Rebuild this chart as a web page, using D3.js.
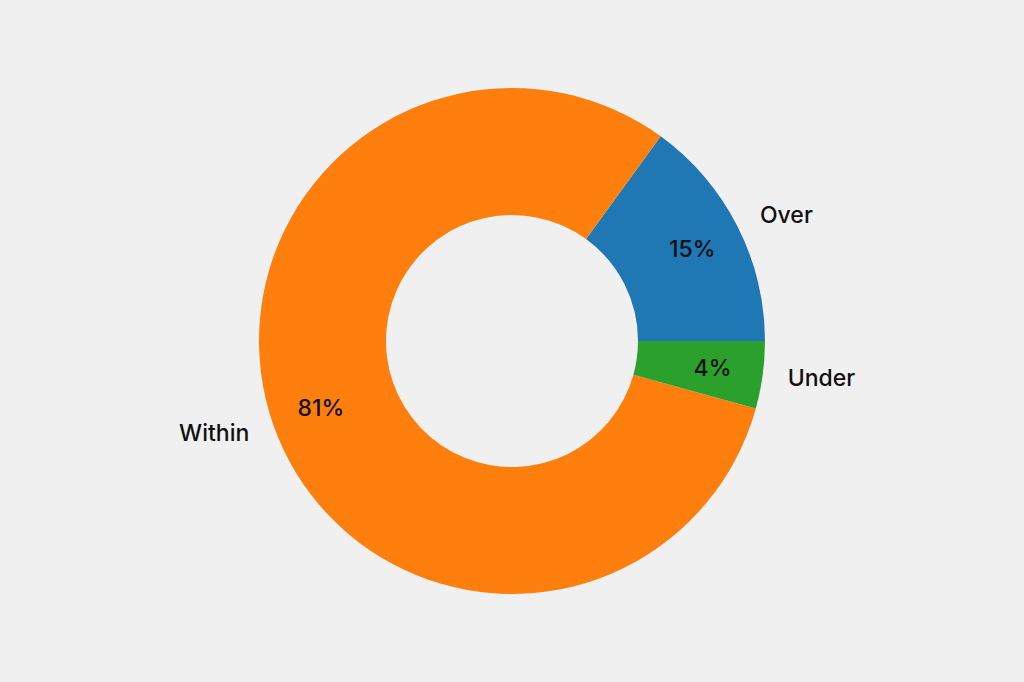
<!DOCTYPE html>
<html>
<head>
<meta charset="utf-8">
<script src="https://cdn.jsdelivr.net/npm/d3@7"></script>
<style>
  body { margin: 0; background: #f0f0f0; }
  svg { display: block; }
</style>
</head>
<body>
<div id="chart"></div>
<script>
var svgWidth = 1024;
var svgHeight = 682;

var categories = ["Over", "Within", "Under"];
var values = [15, 80.7, 4.3];
var colors = ["#1f77b4", "#ff7f0e", "#2ca02c"];

var cx = 512, cy = 341;
var outerR = 253;
var innerR = 126;
var labelDist = 1.1;
var pctDist = 0.8;

var svg = d3.select("#chart")
    .append("svg")
    .attr("width", svgWidth)
    .attr("height", svgHeight)
    .style("background", "#f0f0f0");

var g = svg.append("g")
    .attr("transform", `translate(${cx}, ${cy})`);

var data = categories.map((c, i) => ({ name: c, value: values[i], color: colors[i] }));

// matplotlib style: start at 3 o'clock, counterclockwise
var pie = d3.pie()
    .sort(null)
    .value(d => d.value)
    .startAngle(Math.PI / 2)
    .endAngle(Math.PI / 2 - 2 * Math.PI);

var arcs = pie(data);

var arc = d3.arc()
    .innerRadius(innerR)
    .outerRadius(outerR);

g.selectAll("path")
    .data(arcs)
    .enter()
    .append("path")
    .attr("d", arc)
    .attr("fill", d => d.data.color);

var total = d3.sum(values);

function pos(d, r) {
    var a = (d.startAngle + d.endAngle) / 2;
    return [r * Math.sin(a), -r * Math.cos(a)];
}

var font = "Inter, 'DejaVu Sans', sans-serif";

g.selectAll(".label")
    .data(arcs)
    .enter()
    .append("text")
    .attr("class", "label")
    .attr("x", d => pos(d, outerR * labelDist)[0])
    .attr("y", d => pos(d, outerR * labelDist)[1])
    .attr("text-anchor", d => pos(d, 1)[0] > 0 ? "start" : "end")
    .attr("dominant-baseline", "central")
    .attr("font-family", font)
    .attr("font-size", "23px")
    .attr("font-weight", 500)
    .attr("fill", "#111")
    .text(d => d.data.name);

g.selectAll(".pct")
    .data(arcs)
    .enter()
    .append("text")
    .attr("class", "pct")
    .attr("x", d => pos(d, outerR * pctDist)[0])
    .attr("y", d => pos(d, outerR * pctDist)[1])
    .attr("text-anchor", "middle")
    .attr("dominant-baseline", "central")
    .attr("font-family", font)
    .attr("font-size", "23px")
    .attr("font-weight", 500)
    .attr("fill", "#111")
    .text(d => Math.round(d.data.value / total * 100) + "%");
</script>
</body>
</html>
